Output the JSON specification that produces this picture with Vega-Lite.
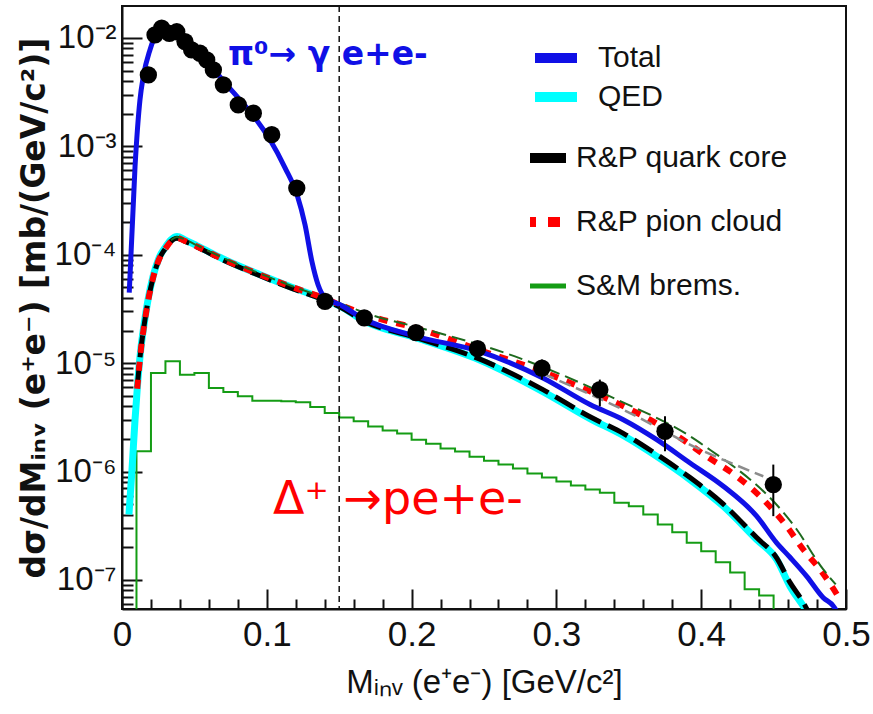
{
  "$schema": "https://vega.github.io/schema/vega-lite/v6.json",
  "width": 724,
  "height": 603,
  "autosize": {"type": "none"},
  "padding": {"left": 122, "top": 6, "right": 27, "bottom": 105},
  "background": "white",
  "config": {
    "view": {"stroke": "#111111", "strokeWidth": 2},
    "font": "Liberation Sans",
    "axis": {"labelOverlap": false}
  },
  "resolve": {"axis": {"x": "independent"}},
  "datasets": {
    "curves": [
      {"series": "Total", "x": 0.005, "y": 4.48e-5},
      {"series": "Total", "x": 0.009, "y": 6.5e-4},
      {"series": "Total", "x": 0.0124, "y": 2.68e-3},
      {"series": "Total", "x": 0.0147, "y": 4.4e-3},
      {"series": "Total", "x": 0.0193, "y": 7.75e-3},
      {"series": "Total", "x": 0.024, "y": 1.11e-2},
      {"series": "Total", "x": 0.0283, "y": 1.22e-2},
      {"series": "Total", "x": 0.0331, "y": 1.19e-2},
      {"series": "Total", "x": 0.04, "y": 1.04e-2},
      {"series": "Total", "x": 0.0504, "y": 7.75e-3},
      {"series": "Total", "x": 0.0608, "y": 5.64e-3},
      {"series": "Total", "x": 0.0711, "y": 3.85e-3},
      {"series": "Total", "x": 0.0815, "y": 2.68e-3},
      {"series": "Total", "x": 0.0919, "y": 1.83e-3},
      {"series": "Total", "x": 0.1022, "y": 1.15e-3},
      {"series": "Total", "x": 0.1126, "y": 6.34e-4},
      {"series": "Total", "x": 0.1209, "y": 3.57e-4},
      {"series": "Total", "x": 0.1264, "y": 1.89e-4},
      {"series": "Total", "x": 0.1312, "y": 8.61e-5},
      {"series": "Total", "x": 0.1354, "y": 5.29e-5},
      {"series": "Total", "x": 0.1402, "y": 4.02e-5},
      {"series": "Total", "x": 0.1506, "y": 3.46e-5},
      {"series": "Total", "x": 0.1671, "y": 2.55e-5},
      {"series": "Total", "x": 0.203, "y": 1.77e-5},
      {"series": "Total", "x": 0.2463, "y": 1.29e-5},
      {"series": "Total", "x": 0.2907, "y": 7.3e-6},
      {"series": "Total", "x": 0.3232, "y": 4.15e-6},
      {"series": "Total", "x": 0.3462, "y": 3.01e-6},
      {"series": "Total", "x": 0.3693, "y": 1.97e-6},
      {"series": "Total", "x": 0.3923, "y": 1.2e-6},
      {"series": "Total", "x": 0.4153, "y": 7.32e-7},
      {"series": "Total", "x": 0.4383, "y": 3.88e-7},
      {"series": "Total", "x": 0.4521, "y": 2.2e-7},
      {"series": "Total", "x": 0.4613, "y": 1.62e-7},
      {"series": "Total", "x": 0.4729, "y": 1.08e-7},
      {"series": "Total", "x": 0.4843, "y": 6.86e-8},
      {"series": "Total", "x": 0.4913, "y": 5.74e-8},
      {"series": "Total", "x": 0.496, "y": 4.5e-8},

      {"series": "QED", "x": 0.0048, "y": 4.02e-7},
      {"series": "QED", "x": 0.0069, "y": 1.04e-6},
      {"series": "QED", "x": 0.009, "y": 3.01e-6},
      {"series": "QED", "x": 0.011, "y": 7.05e-6},
      {"series": "QED", "x": 0.0131, "y": 1.39e-5},
      {"series": "QED", "x": 0.0152, "y": 2.26e-5},
      {"series": "QED", "x": 0.018, "y": 3.85e-5},
      {"series": "QED", "x": 0.0214, "y": 6.27e-5},
      {"series": "QED", "x": 0.0256, "y": 9.37e-5},
      {"series": "QED", "x": 0.0297, "y": 1.16e-4},
      {"series": "QED", "x": 0.0338, "y": 1.37e-4},
      {"series": "QED", "x": 0.038, "y": 1.47e-4},
      {"series": "QED", "x": 0.0435, "y": 1.37e-4},
      {"series": "QED", "x": 0.0518, "y": 1.21e-4},
      {"series": "QED", "x": 0.0725, "y": 8.81e-5},
      {"series": "QED", "x": 0.0953, "y": 6.55e-5},
      {"series": "QED", "x": 0.1181, "y": 4.97e-5},
      {"series": "QED", "x": 0.1388, "y": 3.93e-5},
      {"series": "QED", "x": 0.1506, "y": 3.35e-5},
      {"series": "QED", "x": 0.1671, "y": 2.45e-5},
      {"series": "QED", "x": 0.203, "y": 1.72e-5},
      {"series": "QED", "x": 0.2463, "y": 1.08e-5},
      {"series": "QED", "x": 0.2907, "y": 5.46e-6},
      {"series": "QED", "x": 0.3232, "y": 3.08e-6},
      {"series": "QED", "x": 0.3462, "y": 2.15e-6},
      {"series": "QED", "x": 0.3693, "y": 1.38e-6},
      {"series": "QED", "x": 0.3923, "y": 8.43e-7},
      {"series": "QED", "x": 0.4153, "y": 4.79e-7},
      {"series": "QED", "x": 0.4383, "y": 2.36e-7},
      {"series": "QED", "x": 0.4521, "y": 1.55e-7},
      {"series": "QED", "x": 0.4613, "y": 8.77e-8},
      {"series": "QED", "x": 0.4705, "y": 5.74e-8},
      {"series": "QED", "x": 0.4765, "y": 4.3e-8},

      {"series": "R&P quark core", "x": 0.0105, "y": 6.0e-6},
      {"series": "R&P quark core", "x": 0.0131, "y": 1.36e-5},
      {"series": "R&P quark core", "x": 0.0152, "y": 2.2e-5},
      {"series": "R&P quark core", "x": 0.018, "y": 3.75e-5},
      {"series": "R&P quark core", "x": 0.0214, "y": 6.1e-5},
      {"series": "R&P quark core", "x": 0.0256, "y": 9.1e-5},
      {"series": "R&P quark core", "x": 0.0297, "y": 1.13e-4},
      {"series": "R&P quark core", "x": 0.0338, "y": 1.33e-4},
      {"series": "R&P quark core", "x": 0.038, "y": 1.42e-4},
      {"series": "R&P quark core", "x": 0.0435, "y": 1.33e-4},
      {"series": "R&P quark core", "x": 0.0518, "y": 1.18e-4},
      {"series": "R&P quark core", "x": 0.0725, "y": 8.6e-5},
      {"series": "R&P quark core", "x": 0.0953, "y": 6.4e-5},
      {"series": "R&P quark core", "x": 0.1181, "y": 4.85e-5},
      {"series": "R&P quark core", "x": 0.1388, "y": 3.85e-5},
      {"series": "R&P quark core", "x": 0.1506, "y": 3.3e-5},
      {"series": "R&P quark core", "x": 0.1671, "y": 2.45e-5},
      {"series": "R&P quark core", "x": 0.203, "y": 1.72e-5},
      {"series": "R&P quark core", "x": 0.2463, "y": 1.1e-5},
      {"series": "R&P quark core", "x": 0.2907, "y": 5.7e-6},
      {"series": "R&P quark core", "x": 0.3232, "y": 3.2e-6},
      {"series": "R&P quark core", "x": 0.3462, "y": 2.25e-6},
      {"series": "R&P quark core", "x": 0.3693, "y": 1.44e-6},
      {"series": "R&P quark core", "x": 0.3923, "y": 8.8e-7},
      {"series": "R&P quark core", "x": 0.4153, "y": 5.0e-7},
      {"series": "R&P quark core", "x": 0.4383, "y": 2.46e-7},
      {"series": "R&P quark core", "x": 0.4521, "y": 1.6e-7},
      {"series": "R&P quark core", "x": 0.4613, "y": 9.5e-8},
      {"series": "R&P quark core", "x": 0.4705, "y": 6.2e-8},
      {"series": "R&P quark core", "x": 0.476, "y": 4.5e-8},

      {"series": "R&P pion cloud", "x": 0.0105, "y": 5.8e-6},
      {"series": "R&P pion cloud", "x": 0.0131, "y": 1.35e-5},
      {"series": "R&P pion cloud", "x": 0.0152, "y": 2.19e-5},
      {"series": "R&P pion cloud", "x": 0.018, "y": 3.73e-5},
      {"series": "R&P pion cloud", "x": 0.0214, "y": 6.08e-5},
      {"series": "R&P pion cloud", "x": 0.0256, "y": 9.09e-5},
      {"series": "R&P pion cloud", "x": 0.0297, "y": 1.125e-4},
      {"series": "R&P pion cloud", "x": 0.0338, "y": 1.33e-4},
      {"series": "R&P pion cloud", "x": 0.038, "y": 1.43e-4},
      {"series": "R&P pion cloud", "x": 0.0435, "y": 1.34e-4},
      {"series": "R&P pion cloud", "x": 0.0518, "y": 1.19e-4},
      {"series": "R&P pion cloud", "x": 0.0725, "y": 8.75e-5},
      {"series": "R&P pion cloud", "x": 0.0953, "y": 6.55e-5},
      {"series": "R&P pion cloud", "x": 0.1181, "y": 5.0e-5},
      {"series": "R&P pion cloud", "x": 0.1388, "y": 4.0e-5},
      {"series": "R&P pion cloud", "x": 0.1506, "y": 3.45e-5},
      {"series": "R&P pion cloud", "x": 0.1722, "y": 2.7e-5},
      {"series": "R&P pion cloud", "x": 0.2068, "y": 2.04e-5},
      {"series": "R&P pion cloud", "x": 0.2463, "y": 1.33e-5},
      {"series": "R&P pion cloud", "x": 0.2907, "y": 8.3e-6},
      {"series": "R&P pion cloud", "x": 0.3232, "y": 5.5e-6},
      {"series": "R&P pion cloud", "x": 0.3439, "y": 4.15e-6},
      {"series": "R&P pion cloud", "x": 0.3646, "y": 3.01e-6},
      {"series": "R&P pion cloud", "x": 0.3854, "y": 2.05e-6},
      {"series": "R&P pion cloud", "x": 0.4038, "y": 1.38e-6},
      {"series": "R&P pion cloud", "x": 0.4245, "y": 9.05e-7},
      {"series": "R&P pion cloud", "x": 0.4429, "y": 5.52e-7},
      {"series": "R&P pion cloud", "x": 0.459, "y": 3.13e-7},
      {"series": "R&P pion cloud", "x": 0.4705, "y": 1.91e-7},
      {"series": "R&P pion cloud", "x": 0.482, "y": 1.25e-7},
      {"series": "R&P pion cloud", "x": 0.4901, "y": 8.77e-8},
      {"series": "R&P pion cloud", "x": 0.4959, "y": 6.6e-8},

      {"series": "R&P model A", "x": 0.0338, "y": 1.36e-4},
      {"series": "R&P model A", "x": 0.038, "y": 1.46e-4},
      {"series": "R&P model A", "x": 0.0435, "y": 1.38e-4},
      {"series": "R&P model A", "x": 0.0518, "y": 1.22e-4},
      {"series": "R&P model A", "x": 0.0725, "y": 9.0e-5},
      {"series": "R&P model A", "x": 0.0953, "y": 6.7e-5},
      {"series": "R&P model A", "x": 0.1181, "y": 5.1e-5},
      {"series": "R&P model A", "x": 0.1388, "y": 4.05e-5},
      {"series": "R&P model A", "x": 0.1506, "y": 3.55e-5},
      {"series": "R&P model A", "x": 0.1722, "y": 2.78e-5},
      {"series": "R&P model A", "x": 0.2068, "y": 2.1e-5},
      {"series": "R&P model A", "x": 0.2709, "y": 1.16e-5},
      {"series": "R&P model A", "x": 0.337, "y": 4.94e-6},
      {"series": "R&P model A", "x": 0.3992, "y": 1.84e-6},
      {"series": "R&P model A", "x": 0.466, "y": 2.92e-7},
      {"series": "R&P model A", "x": 0.4843, "y": 1.25e-7},
      {"series": "R&P model A", "x": 0.4929, "y": 9.1e-8},

      {"series": "fit", "x": 0.2907, "y": 8.0e-6},
      {"series": "fit", "x": 0.3462, "y": 3.72e-6},
      {"series": "fit", "x": 0.3992, "y": 1.6e-6},
      {"series": "fit", "x": 0.4429, "y": 9.05e-7}
    ],
    "brems": [
      {"x": 0.0, "y": 1e-9},
      {"x": 0.01, "y": 1.54e-6},
      {"x": 0.02, "y": 8.13e-6},
      {"x": 0.03, "y": 1.04e-5},
      {"x": 0.04, "y": 7.83e-6},
      {"x": 0.05, "y": 8.13e-6},
      {"x": 0.06, "y": 5.9e-6},
      {"x": 0.07, "y": 5.42e-6},
      {"x": 0.08, "y": 4.94e-6},
      {"x": 0.09, "y": 4.51e-6},
      {"x": 0.1, "y": 4.51e-6},
      {"x": 0.11, "y": 4.45e-6},
      {"x": 0.12, "y": 4.35e-6},
      {"x": 0.13, "y": 3.95e-6},
      {"x": 0.14, "y": 3.47e-6},
      {"x": 0.15, "y": 3.16e-6},
      {"x": 0.16, "y": 2.91e-6},
      {"x": 0.17, "y": 2.61e-6},
      {"x": 0.18, "y": 2.39e-6},
      {"x": 0.19, "y": 2.24e-6},
      {"x": 0.2, "y": 1.97e-6},
      {"x": 0.21, "y": 1.81e-6},
      {"x": 0.22, "y": 1.63e-6},
      {"x": 0.23, "y": 1.53e-6},
      {"x": 0.24, "y": 1.37e-6},
      {"x": 0.25, "y": 1.26e-6},
      {"x": 0.26, "y": 1.16e-6},
      {"x": 0.27, "y": 1.07e-6},
      {"x": 0.28, "y": 9.6e-7},
      {"x": 0.29, "y": 8.8e-7},
      {"x": 0.3, "y": 8.1e-7},
      {"x": 0.31, "y": 7.43e-7},
      {"x": 0.32, "y": 6.82e-7},
      {"x": 0.33, "y": 6.37e-7},
      {"x": 0.34, "y": 5.15e-7},
      {"x": 0.35, "y": 4.79e-7},
      {"x": 0.36, "y": 4.02e-7},
      {"x": 0.37, "y": 3.25e-7},
      {"x": 0.38, "y": 2.76e-7},
      {"x": 0.39, "y": 2.2e-7},
      {"x": 0.4, "y": 1.84e-7},
      {"x": 0.41, "y": 1.46e-7},
      {"x": 0.42, "y": 1.17e-7},
      {"x": 0.43, "y": 8.2e-8},
      {"x": 0.44, "y": 7.2e-8},
      {"x": 0.45, "y": 1e-9}
    ],
    "points": [
      {"x": 0.0182, "y": 4.56e-3},
      {"x": 0.0228, "y": 1.066e-2},
      {"x": 0.0274, "y": 1.23e-2},
      {"x": 0.0327, "y": 1.1e-2},
      {"x": 0.0378, "y": 1.14e-2},
      {"x": 0.0435, "y": 9.25e-3},
      {"x": 0.0481, "y": 7.75e-3},
      {"x": 0.0539, "y": 7.22e-3},
      {"x": 0.0585, "y": 6.27e-3},
      {"x": 0.0631, "y": 5.07e-3},
      {"x": 0.07, "y": 3.69e-3},
      {"x": 0.0803, "y": 2.41e-3},
      {"x": 0.0907, "y": 2.02e-3},
      {"x": 0.1034, "y": 1.28e-3},
      {"x": 0.1207, "y": 4.12e-4},
      {"x": 0.1402, "y": 3.72e-5},
      {"x": 0.1673, "y": 2.62e-5},
      {"x": 0.203, "y": 1.91e-5},
      {"x": 0.2455, "y": 1.36e-5, "lo": 1.22e-5, "hi": 1.5e-5},
      {"x": 0.29, "y": 9.0e-6, "lo": 7.05e-6, "hi": 1.08e-5},
      {"x": 0.33, "y": 5.7e-6, "lo": 4.0e-6, "hi": 7.05e-6},
      {"x": 0.375, "y": 2.35e-6, "lo": 1.54e-6, "hi": 3.24e-6},
      {"x": 0.4498, "y": 7.59e-7, "lo": 3.88e-7, "hi": 1.16e-6}
    ],
    "cut": [{"x": 0.15}],
    "notes": [
      {"x": 0.0732, "y": 5.64e-3, "text": "π⁰→ γ e+e-", "kind": "pi"},
      {"x": 0.1043, "y": 4.02e-7, "text": "Δ⁺ →pe+e-", "kind": "delta"}
    ]
  },
  "layer": [
    {
      "data": {"name": "brems"},
      "transform": [{"calculate": "'S&M brems.'", "as": "series"}],
      "mark": {"type": "line", "interpolate": "step-after", "strokeWidth": 2, "clip": true},
      "encoding": {
        "x": {
          "field": "x", "type": "quantitative",
          "scale": {"domain": [0, 0.5], "nice": false, "zero": false},
          "axis": {
            "orient": "bottom",
            "title": "Mᵢₙᵥ (e⁺e⁻) [GeV/c²]",
            "titleFont": "Liberation Sans", "titleFontSize": 33, "titleFontWeight": "normal", "titleColor": "#111111",
            "titlePadding": 14,
            "values": [0, 0.1, 0.2, 0.3, 0.4, 0.5],
            "labelExpr": "datum.value == 0 ? '0' : format(datum.value, '.1f')",
            "labelFont": "Liberation Sans", "labelFontSize": 35, "labelColor": "#111111",
            "labelOverlap": false, "labelBound": false, "labelFlush": false,
            "labelPadding": 28,
            "tickSize": -20,
            "tickColor": "#111111", "tickWidth": 2,
            "domainColor": "#111111", "domainWidth": 2,
            "grid": false
          }
        },
        "y": {
          "field": "y", "type": "quantitative",
          "scale": {"type": "log", "domain": [5.4e-8, 1.97e-2], "nice": false},
          "axis": {
            "title": "dσ/dMᵢₙᵥ (e⁺e⁻) [mb/(GeV/c²)]",
            "titleFont": "DejaVu Sans", "titleFontSize": 33, "titleFontWeight": "bold", "titleColor": "#111111",
            "titlePadding": 3,
            "values": [6e-8, 7e-8, 8e-8, 9e-8, 1e-7, 2e-7, 3e-7, 4e-7, 5e-7, 6e-7, 7e-7, 8e-7, 9e-7, 1e-6, 2e-6, 3e-6, 4e-6, 5e-6, 6e-6, 7e-6, 8e-6, 9e-6, 1e-5, 2e-5, 3e-5, 4e-5, 5e-5, 6e-5, 7e-5, 8e-5, 9e-5, 1e-4, 2e-4, 3e-4, 4e-4, 5e-4, 6e-4, 7e-4, 8e-4, 9e-4, 1e-3, 2e-3, 3e-3, 4e-3, 5e-3, 6e-3, 7e-3, 8e-3, 9e-3, 1e-2],
            "labelExpr": "abs(log(datum.value)/LN10 - round(log(datum.value)/LN10)) < 1e-6 ? '10' + ['', '', '⁻²', '⁻³', '⁻⁴', '⁻⁵', '⁻⁶', '⁻⁷'][-round(log(datum.value)/LN10)] : ''",
            "labelFont": "Liberation Sans", "labelFontSize": 33, "labelColor": "#111111",
            "labelOverlap": false, "labelBound": false, "labelFlush": false,
            "labelPadding": 26,
            "tickSize": {"condition": {"test": "abs(log(datum.value)/LN10 - round(log(datum.value)/LN10)) < 1e-6", "value": -20}, "value": -11},
            "tickColor": "#111111", "tickWidth": 2,
            "domainColor": "#111111", "domainWidth": 2,
            "grid": false
          }
        },
        "stroke": {
          "field": "series", "type": "nominal",
          "scale": {"domain": ["R&P quark core", "R&P pion cloud", "S&M brems."], "range": ["#000000", "#ff0000", "#149c14"]},
          "legend": {
            "orient": "none", "legendX": 408, "legendY": 137, "title": null, "padding": 0,
            "symbolType": "stroke", "symbolSize": 1764, "symbolStrokeWidth": 10,
            "labelFont": "Liberation Sans", "labelFontSize": 30, "labelColor": "#111111", "labelLimit": 500,
            "labelOffset": 16, "clipHeight": 30, "rowPadding": 34,
            "encode": {"symbols": {"update": {
              "strokeDash": {"signal": "datum.value === 'R&P pion cloud' ? [12, 12] : [1000, 0]"},
              "strokeWidth": {"signal": "datum.value === 'S&M brems.' ? 5 : 10"}
            }}}
          }
        }
      }
    },
    {
      "data": {"name": "curves"},
      "transform": [{"filter": "datum.series === 'QED'"}],
      "mark": {"type": "line", "strokeWidth": 7, "interpolate": "monotone", "clip": true},
      "encoding": {
        "x": {"field": "x", "type": "quantitative", "axis": null},
        "y": {"field": "y", "type": "quantitative"},
        "color": {
          "field": "series", "type": "nominal",
          "scale": {"domain": ["Total", "QED"], "range": ["#1010e6", "#00ffff"]},
          "legend": {
            "orient": "none", "legendX": 408, "legendY": 37, "title": null, "padding": 0,
            "symbolType": "stroke", "symbolSize": 1764, "symbolStrokeWidth": 10,
            "labelFont": "Liberation Sans", "labelFontSize": 30, "labelColor": "#111111", "labelLimit": 500,
            "labelOffset": 16, "clipHeight": 30, "rowPadding": 9
          }
        }
      }
    },
    {
      "data": {"name": "curves"},
      "transform": [{"filter": "datum.series === 'R&P quark core'"}],
      "mark": {"type": "line", "strokeWidth": 5, "strokeDash": [22, 8], "interpolate": "monotone", "clip": true},
      "encoding": {
        "x": {"field": "x", "type": "quantitative", "axis": null},
        "y": {"field": "y", "type": "quantitative"},
        "stroke": {"field": "series", "type": "nominal"}
      }
    },
    {
      "data": {"name": "curves"},
      "transform": [{"filter": "datum.series === 'R&P pion cloud'"}],
      "mark": {"type": "line", "strokeWidth": 6, "strokeDash": [9, 9], "interpolate": "monotone", "clip": true},
      "encoding": {
        "x": {"field": "x", "type": "quantitative", "axis": null},
        "y": {"field": "y", "type": "quantitative"},
        "stroke": {"field": "series", "type": "nominal"}
      }
    },
    {
      "data": {"name": "curves"},
      "transform": [{"filter": "datum.series === 'R&P model A'"}],
      "mark": {"type": "line", "strokeWidth": 2, "strokeDash": [14, 6], "color": "#1e6a1e", "interpolate": "monotone", "clip": true},
      "encoding": {
        "x": {"field": "x", "type": "quantitative", "axis": null},
        "y": {"field": "y", "type": "quantitative"}
      }
    },
    {
      "data": {"name": "curves"},
      "transform": [{"filter": "datum.series === 'fit'"}],
      "mark": {"type": "line", "strokeWidth": 2.5, "strokeDash": [12, 6], "color": "#8c8c8c", "interpolate": "monotone", "clip": true},
      "encoding": {
        "x": {"field": "x", "type": "quantitative", "axis": null},
        "y": {"field": "y", "type": "quantitative"}
      }
    },
    {
      "data": {"name": "curves"},
      "transform": [{"filter": "datum.series === 'Total'"}],
      "mark": {"type": "line", "strokeWidth": 5, "interpolate": "monotone", "clip": true},
      "encoding": {
        "x": {"field": "x", "type": "quantitative", "axis": null},
        "y": {"field": "y", "type": "quantitative"},
        "color": {"field": "series", "type": "nominal"}
      }
    },
    {
      "data": {"name": "cut"},
      "mark": {"type": "rule", "color": "#111111", "strokeWidth": 1.5, "strokeDash": [6, 4]},
      "encoding": {
        "x": {
          "field": "x", "type": "quantitative",
          "axis": {
            "orient": "bottom",
            "title": null,
            "values": [0.02, 0.04, 0.06, 0.08, 0.12, 0.14, 0.16, 0.18, 0.22, 0.24, 0.26, 0.28, 0.32, 0.34, 0.36, 0.38, 0.42, 0.44, 0.46, 0.48],
            "labels": false,
            "domain": false,
            "grid": false,
            "tickSize": -10,
            "tickColor": "#111111", "tickWidth": 2
          }
        }
      }
    },
    {
      "data": {"name": "points"},
      "transform": [{"filter": "isValid(datum.lo)"}],
      "mark": {"type": "rule", "color": "#000000", "strokeWidth": 2},
      "encoding": {
        "x": {"field": "x", "type": "quantitative", "axis": null},
        "y": {"field": "lo", "type": "quantitative"},
        "y2": {"field": "hi"}
      }
    },
    {
      "data": {"name": "points"},
      "mark": {"type": "point", "filled": true, "shape": "circle", "size": 300, "color": "#000000", "opacity": 1},
      "encoding": {
        "x": {"field": "x", "type": "quantitative", "axis": null},
        "y": {"field": "y", "type": "quantitative"}
      }
    },
    {
      "data": {"name": "notes"},
      "transform": [{"filter": "datum.kind === 'pi'"}],
      "mark": {"type": "text", "align": "left", "baseline": "alphabetic", "font": "DejaVu Sans", "fontWeight": "bold", "fontSize": 33, "color": "#1010e6"},
      "encoding": {
        "x": {"field": "x", "type": "quantitative", "axis": null},
        "y": {"field": "y", "type": "quantitative"},
        "text": {"field": "text"}
      }
    },
    {
      "data": {"name": "notes"},
      "transform": [{"filter": "datum.kind === 'delta'"}],
      "mark": {"type": "text", "align": "left", "baseline": "alphabetic", "font": "DejaVu Sans", "fontSize": 46, "color": "#ff0000"},
      "encoding": {
        "x": {"field": "x", "type": "quantitative", "axis": null},
        "y": {"field": "y", "type": "quantitative"},
        "text": {"field": "text"}
      }
    }
  ]
}
